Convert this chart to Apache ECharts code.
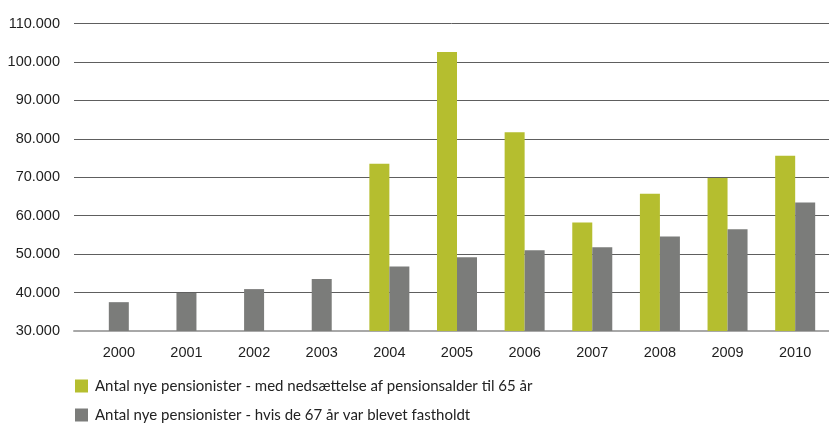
<!DOCTYPE html>
<html>
<head>
<meta charset="utf-8">
<script src="https://cdn.jsdelivr.net/npm/echarts@6/dist/echarts.min.js"></script>
<style>
html,body{margin:0;padding:0;background:#fff;}
#chart{width:829px;height:426px;}
</style>
</head>
<body>
<div id="chart"></div>
<script>
var years = ['2000','2001','2002','2003','2004','2005','2006','2007','2008','2009','2010'];
var nameGreen = 'Antal nye pensionister - med nedsættelse af pensionsalder til 65 år';
var nameGray = 'Antal nye pensionister - hvis de 67 år var blevet fastholdt';
var greenValues = [null, null, null, null, 73500, 102600, 81700, 58200, 65700, 69800, 75600];
var grayValues  = [null, null, null, null, 46800, 49200, 51000, 51800, 54600, 56500, 63400];
var graySoloValues = [37500, 39900, 40900, 43500, null, null, null, null, null, null, null];
var yMin = 30000, yMax = 110000, yStep = 10000;

function fmt(v){ return String(v).replace(/\B(?=(\d{3})+(?!\d))/g, '.'); }

var chart = echarts.init(document.getElementById('chart'), null, {renderer:'canvas'});
var TOP = 23.5, H = 307.5;
chart.setOption({
  animation: false,
  backgroundColor: '#fff',
  grid: [
    {left: 74, right: 0, top: TOP, height: H},
    {left: 85, width: 749, top: TOP, height: H}
  ],
  legend: {
    orient: 'vertical',
    left: 75, top: 377, height: 60, padding: 0,
    itemWidth: 13, itemHeight: 13, itemGap: 11,
    icon: 'rect',
    data: [nameGreen, nameGray],
    textStyle: {fontFamily: 'Lato', fontSize: 15, color: '#222', padding: [0,0,0,2], lineHeight: 18}
  },
  xAxis: [
    {gridIndex: 0, type: 'category', data: years,
     axisLine: {show: true, lineStyle: {color: '#a8a8a8', width: 2}},
     axisTick: {show: false}, axisLabel: {show: false}, splitLine: {show: false}},
    {gridIndex: 1, type: 'category', data: years,
     axisLine: {show: false}, axisTick: {show: false},
     axisLabel: {margin: 14, fontFamily: 'Liberation Sans', fontSize: 14.5, color: '#1e1e1e'}},
    {gridIndex: 1, type: 'category', data: years, show: false}
  ],
  yAxis: [
    {gridIndex: 0, type: 'value', min: yMin, max: yMax, interval: yStep,
     axisLine: {show: false}, axisTick: {show: false},
     axisLabel: {margin: 14, fontFamily: 'Liberation Sans', fontSize: 14.5, color: '#1e1e1e', formatter: fmt},
     splitLine: {show: true, lineStyle: {color: '#5e5e5e', width: 1}}},
    {gridIndex: 1, type: 'value', min: yMin, max: yMax, interval: yStep, show: false,
     splitLine: {show: false}}
  ],
  series: [
    {name: nameGreen, type: 'bar', xAxisIndex: 1, yAxisIndex: 1, data: greenValues,
     barWidth: 20, barGap: '0%', itemStyle: {color: '#b5be2f'}},
    {name: nameGray, type: 'bar', xAxisIndex: 1, yAxisIndex: 1, data: grayValues,
     barWidth: 20, barGap: '0%', itemStyle: {color: '#7b7c7a'}},
    {name: nameGray, type: 'bar', xAxisIndex: 2, yAxisIndex: 1, data: graySoloValues,
     barWidth: 20, itemStyle: {color: '#7b7c7a'}}
  ]
});
</script>
</body>
</html>
